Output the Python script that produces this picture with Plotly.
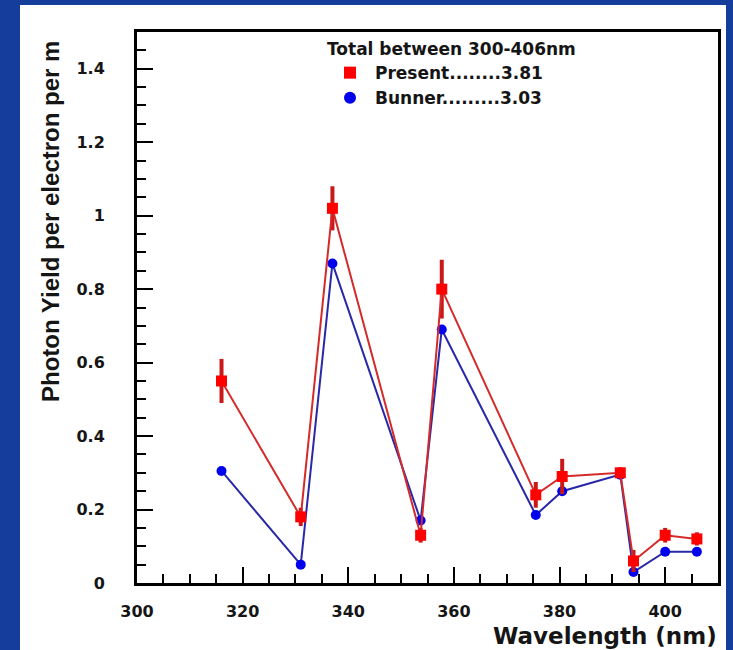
import plotly.graph_objects as go

# ---- data ----
wavelength = [316, 331, 337, 353.7, 357.7, 375.5, 380.5, 391.5, 394, 400, 406]
present = [0.55, 0.18, 1.02, 0.13, 0.80, 0.24, 0.29, 0.30, 0.06, 0.13, 0.12]
present_err = [0.06, 0.025, 0.06, 0.02, 0.08, 0.035, 0.048, 0.015, 0.03, 0.02, 0.018]
bunner = [0.305, 0.05, 0.87, 0.17, 0.69, 0.185, 0.25, 0.295, 0.03, 0.085, 0.085]

x_ticks = [300, 320, 340, 360, 380, 400]
y_ticks = [0, 0.2, 0.4, 0.6, 0.8, 1.0, 1.2, 1.4]
y_tick_labels = ["0", "0.2", "0.4", "0.6", "0.8", "1", "1.2", "1.4"]

legend_title = "Total between 300-406nm"
present_label = "Present........3.81"
bunner_label = "Bunner.........3.03"

WIDE = "DejaVu Sans, Verdana, sans-serif"
NARROW = "Liberation Sans, Arial, sans-serif"
TXT = "#151515"

fig = go.Figure()

fig.add_trace(go.Scatter(
    x=wavelength, y=bunner, mode="lines+markers",
    line=dict(color="#2828a8", width=2),
    marker=dict(symbol="circle", size=10, color="#0000ee"),
    showlegend=False,
))
fig.add_trace(go.Scatter(
    x=wavelength, y=present, mode="lines+markers",
    line=dict(color="#d42a2a", width=2),
    marker=dict(symbol="square", size=11, color="#ff0000"),
    error_y=dict(type="data", array=present_err, thickness=4, width=0, color="#c81818"),
    showlegend=False,
))
# legend entries
fig.add_trace(go.Scatter(
    x=[None], y=[None], mode="markers",
    marker=dict(symbol="square", size=12, color="#ff0000"),
    name=present_label,
))
fig.add_trace(go.Scatter(
    x=[None], y=[None], mode="markers",
    marker=dict(symbol="circle", size=12, color="#0000ee"),
    name=bunner_label,
))

axis_common = dict(
    showline=True, linewidth=3, linecolor="black", mirror=True,
    showgrid=False, zeroline=False,
    ticks="inside", ticklen=16, tickwidth=2, tickcolor="black",
    tickfont=dict(family=WIDE, size=16, color=TXT, weight="bold"),
)

fig.update_xaxes(
    range=[300, 410], tickvals=x_ticks,
    minor=dict(ticks="inside", ticklen=9, tickwidth=2, tickcolor="black", dtick=5, tick0=300, showgrid=False),
    ticklabelstandoff=12,
    **axis_common,
)
fig.update_yaxes(
    range=[0, 1.5], tickvals=y_ticks, ticktext=y_tick_labels,
    minor=dict(ticks="inside", ticklen=9, tickwidth=2, tickcolor="black", dtick=0.05, tick0=0, showgrid=False),
    ticklabelstandoff=26,
    **axis_common,
)

# white panel on the blue slide
fig.add_shape(type="rect", xref="paper", yref="paper",
              x0=(20 - 137) / 581, x1=(726 - 137) / 581,
              y0=(583 - 660) / 551, y1=(583 - 5) / 551,
              fillcolor="white", line=dict(width=0), layer="below")

fig.add_annotation(text="Wavelength (nm)", xref="paper", yref="paper",
                   x=(719 - 137) / 581, y=(583 - 636) / 551, xanchor="right", yanchor="middle",
                   showarrow=False, font=dict(family=WIDE, size=23, color=TXT, weight="bold"))
fig.add_annotation(text="Photon Yield per electron per m", xref="paper", yref="paper",
                   x=(50 - 137) / 581, y=(583 - 222) / 551, xanchor="center", yanchor="middle",
                   textangle=-90, showarrow=False, font=dict(family=NARROW, size=24, color=TXT, weight="bold"))

fig.update_layout(
    width=733, height=650, autosize=False,
    margin=dict(l=137, r=15, t=32, b=67),
    paper_bgcolor="#153d9c", plot_bgcolor="white",
    font=dict(family=WIDE, color=TXT),
    legend=dict(
        x=(325 - 137) / 581, y=(583 - 33) / 551, xanchor="left", yanchor="top",
        bgcolor="rgba(0,0,0,0)", borderwidth=0,
        font=dict(family=WIDE, size=17, color=TXT, weight="bold"),
        title=dict(text=legend_title, font=dict(family=WIDE, size=17, color=TXT, weight="bold")),
        tracegroupgap=0, itemwidth=40,
    ),
)

fig.write_html("out.html")
